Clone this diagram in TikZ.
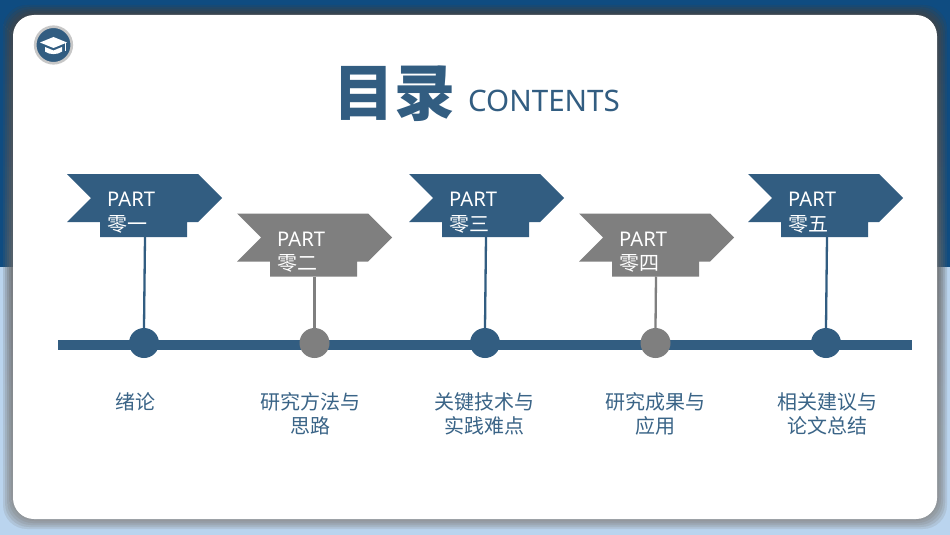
\documentclass[tikz,border=0pt]{standalone}
\usepackage{fontspec}
\setmainfont{Noto Sans}
\newfontfamily\cjk{Noto Sans CJK SC}
\definecolor{navy}{HTML}{325D81}
\definecolor{greyb}{HTML}{7F7F7F}
\definecolor{topband}{HTML}{0F4C81}
\definecolor{lowband}{HTML}{BAD4EE}
\definecolor{txtblue}{HTML}{3A6487}
\definecolor{shade}{HTML}{A0A8B0}
\tikzset{
  parttext/.style={text=white,anchor=west,inner sep=0pt,font=\fontsize{20.2}{20}\selectfont},
  numtext/.style={text=white,anchor=west,inner sep=0pt,font=\cjk\fontsize{20}{20}\selectfont},
  toplabel/.style={text=txtblue,align=center,inner sep=0pt,font=\cjk\fontsize{20}{24}\selectfont},
  dot/.style={circle,minimum size=30pt,inner sep=0pt},
  stem/.style={line width=2.3pt}
}
\newcommand{\banner}[6]{%
  % #1 x offset, #2 y offset, #3 colour, #4 id, #5 number text, #6 stem x
  \begin{scope}[shift={(#1,#2)}]
    \path[fill=#3] (67,174) -- (198,174) -- (222,198) -- (198,222) -- (187,222) -- (187,237)
      -- (100,237) -- (100,222) -- (67,222) -- (91,198) -- cycle;
    \node[parttext] (part#4) at (107,199.5) {PART};
    \node[numtext] (num#4) at (107,224) {#5};
    \coordinate (st#4) at (#6,237);
  \end{scope}}
\begin{document}
\begin{tikzpicture}[x=1pt,y=-1pt]
\useasboundingbox (0,0) rectangle (950,535);
% background
\fill[topband] (0,0) rectangle (950,267);
\fill[lowband] (0,267) rectangle (950,535);
% soft shadow around card
\foreach \d/\o in {10/.10,8/.12,6/.14,4/.17,2/.20,0/.24}{
  \fill[shade,opacity=\o,rounded corners=24pt] (13-\d,15-\d) rectangle (937+\d,519+\d);}
\fill[white,rounded corners=21pt] (13,15) rectangle (937,519);
% badge
\fill[navy,draw=black!22,line width=2.6pt] (53.5,45) circle (18.3);
\fill[white] (40,42.5) -- (53.5,37) -- (67,42.5) -- (53.5,48) -- cycle;
\fill[white] (45,47) -- (53.5,50.5) -- (62,47) -- (62,51.5) .. controls (58,55) and (49,55) .. (45,51.5) -- cycle;
\draw[white,line width=.5pt] (65.5,43.5) -- (65.5,51);
% title
\node[inner sep=0pt,text=navy,font=\cjk\bfseries\fontsize{61}{61}\selectfont] (title) at (394,94) {目录};
\node[inner sep=0pt,text=navy,font=\fontsize{29.6}{30}\selectfont] (contents) at (544,101) {CONTENTS};
% timeline
\fill[navy] (58,340) rectangle (912,349.5);
% banners
\banner{0}{0}{navy}{a}{零一}{145}
\banner{170}{39.5}{greyb}{b}{零二}{144.5}
\banner{342}{0}{navy}{c}{零三}{144}
\banner{512}{39.5}{greyb}{d}{零四}{144}
\banner{681}{0}{navy}{e}{零五}{146}
% dots
\node[dot,fill=navy] (da) at (144,343) {};
\node[dot,fill=greyb] (db) at (314.5,343) {};
\node[dot,fill=navy] (dc) at (485,343) {};
\node[dot,fill=greyb] (dd) at (655.5,343) {};
\node[dot,fill=navy] (de) at (826,343) {};
% stems
\draw[stem,navy] (sta) -- (da.north);
\draw[stem,greyb] (stb) -- (db.north);
\draw[stem,navy] (stc) -- (dc.north);
\draw[stem,greyb] (std) -- (dd.north);
\draw[stem,navy] (ste) -- (de.north);
% labels
\node[toplabel,anchor=north] (la) at (135,392) {绪论};
\node[toplabel,anchor=north] (lb) at (310,392) {研究方法与\\思路};
\node[toplabel,anchor=north] (lc) at (484.5,392) {关键技术与\\实践难点};
\node[toplabel,anchor=north] (ld) at (655.5,392) {研究成果与\\应用};
\node[toplabel,anchor=north] (le) at (827.5,392) {相关建议与\\论文总结};
\end{tikzpicture}
\end{document}
